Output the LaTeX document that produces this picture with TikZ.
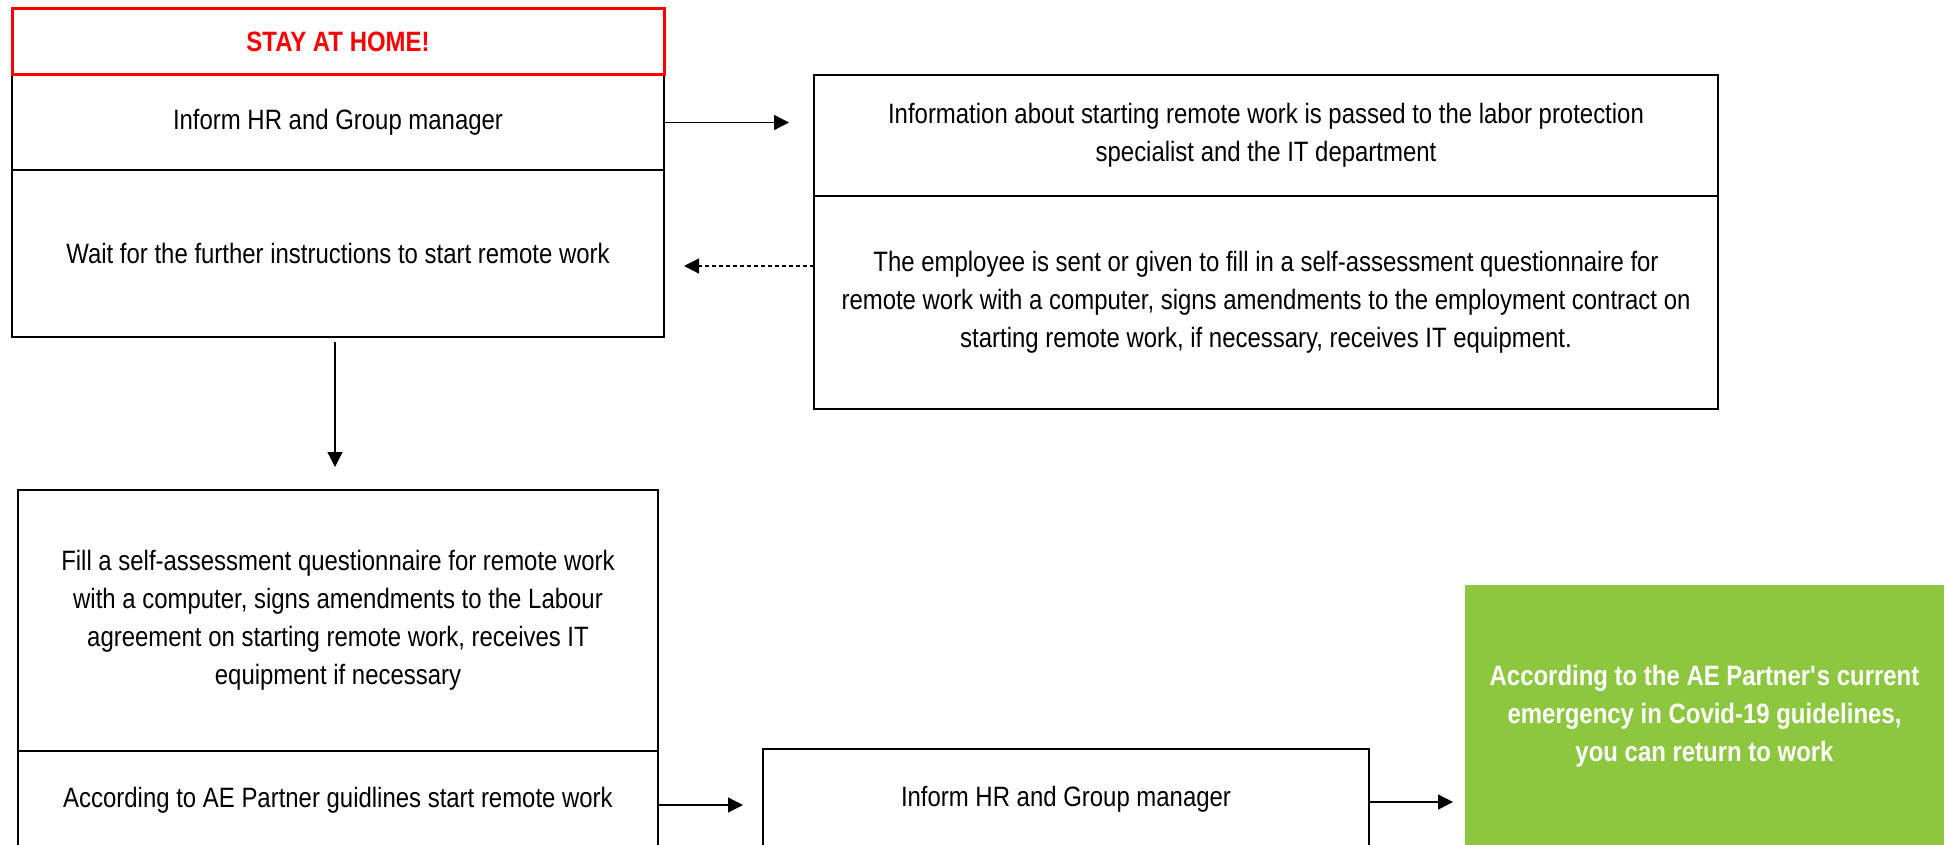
\documentclass[tikz,border=0pt]{standalone}
\usepackage{fontspec}
\setmainfont{Liberation Sans}[FakeStretch=0.855]
\usetikzlibrary{arrows.meta}
\definecolor{alarmred}{RGB}{255,0,0}
\definecolor{okgreen}{RGB}{141,198,63}
\begin{document}
\begin{tikzpicture}[x=1pt,y=-1pt,
  every node/.style={font=\fontsize{28}{38}\selectfont, inner sep=0pt, outer sep=0pt, align=center},
  box/.style={draw=black, line width=1.5pt, rectangle},
  redbox/.style={draw=alarmred, line width=3pt, rectangle, text=alarmred, font=\fontsize{28}{38}\selectfont\bfseries},
  greenbox/.style={fill=okgreen, rectangle, text=white, font=\fontsize{28}{38}\selectfont\bfseries},
  arr/.style={line width=1.3pt, -{Triangle[length=15pt,width=15pt]}},
  darr/.style={arr, dash pattern=on 4pt off 3pt}
]
\useasboundingbox (0,0) rectangle (1950,845);
\clip (0,0) rectangle (1950,845);

% top-left column
\node[box, minimum width=652pt, minimum height=95pt] (b1) at (338,122.5) {Inform HR and Group manager};
\node[box, minimum width=652pt, minimum height=167pt] (b2) at (338,253.5) {Wait for the further instructions to start remote work};
\node[redbox, minimum width=652pt, minimum height=66pt] (red) at (338,42) {STAY AT HOME!};

% top-right column
\node[box, minimum width=904pt, minimum height=121pt] (c1) at (1266,135.5) {Information about starting remote work is passed to the labor protection\\specialist and the IT department};
\node[box, minimum width=904pt, minimum height=213pt] (c2) at (1266,302.5) {The employee is sent or given to fill in a self-assessment questionnaire for\\remote work with a computer, signs amendments to the employment contract on\\starting remote work, if necessary, receives IT equipment.};

% bottom-left column
\node[box, minimum width=640pt, minimum height=261pt] (d1) at (338,620.5) {Fill a self-assessment questionnaire for remote work\\with a computer, signs amendments to the Labour\\agreement on starting remote work, receives IT\\equipment if necessary};
\node[box, minimum width=640pt, minimum height=99pt] (d2) at (338,800.5) {According to AE Partner guidlines start remote work};

% bottom middle and green
\node[box, minimum width=606pt, minimum height=101pt] (e) at (1066,799.5) {Inform HR and Group manager};
\node[greenbox, minimum width=479pt, minimum height=263pt] (g) at (1704.5,716.5) {According to the AE Partner\textquotesingle s current\\emergency in Covid-19 guidelines,\\you can return to work};

% connectors
\draw[arr, shorten >=25pt] (b1.east) -- (b1.east -| c1.west);
\draw[darr, shorten >=20pt] ([yshift=36.5pt]c2.west) -- ([yshift=36.5pt]c2.west -| b2.east);
\draw[arr, shorten <=5pt, shorten >=23pt] ([xshift=-3pt]b2.south) -- ([xshift=-3pt]b2.south |- d1.north);
\draw[arr, shorten >=20pt] ([yshift=-4.5pt]d2.east) -- ([yshift=-4.5pt]d2.east -| e.west);
\draw[arr, shorten >=12pt] ([yshift=-2.5pt]e.east) -- ([yshift=-2.5pt]e.east -| g.west);
\end{tikzpicture}
\end{document}
